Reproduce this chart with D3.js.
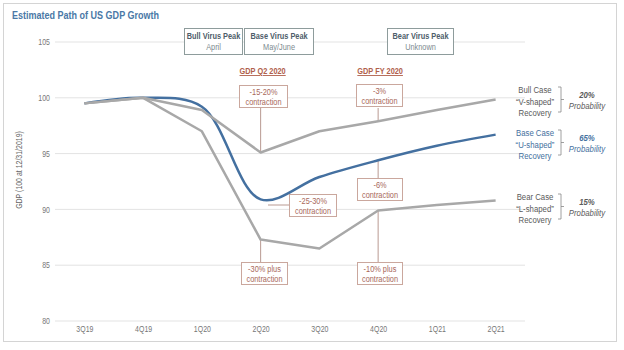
<!DOCTYPE html>
<html>
<head>
<meta charset="utf-8">
<script src="https://cdn.jsdelivr.net/npm/d3@7"></script>
<style>
  body { margin: 0; background: #fff; }
  svg { font-family: "Liberation Sans", Arial, sans-serif; }
</style>
</head>
<body>
<div class="grafico"></div>
<script>
var quarters = ["3Q19", "4Q19", "1Q20", "2Q20", "3Q20", "4Q20", "1Q21", "2Q21"];
var bullCase = [99.5, 100, 98.9, 95.1, 97.0, 97.9, 98.9, 99.85];
var baseCase = [99.5, 100, 99.2, 90.9, 92.9, 94.4, 95.7, 96.7];
var bearCase = [99.5, 100, 97.0, 87.3, 86.5, 89.9, 90.4, 90.8];
var yTicks = [80, 85, 90, 95, 100, 105];

var width = 624;
var height = 350;
var estrecho = 0.82; // imita Arial Narrow

var svg = d3.select('.grafico')
  .append('svg')
  .attr('width', width)
  .attr('height', height);

// texto condensado horizontalmente
function texto(x, y, str, size) {
  return svg.append('text')
    .attr('transform', 'translate(' + x + ',' + y + ') scale(' + estrecho + ',1)')
    .style('font-size', size + 'px')
    .text(str);
}

// marco
svg.append('rect')
  .attr('x', 3.5).attr('y', 3.5)
  .attr('width', 613).attr('height', 338)
  .attr('fill', '#fff')
  .attr('stroke', '#d4d4d4');

texto(12, 19, 'Estimated Path of US GDP Growth', 11)
  .attr('fill', '#4a78a6')
  .style('font-weight', 'bold');

const xScale = d3.scalePoint()
  .domain(quarters)
  .range([55, 525])
  .padding(0.5);

const yScale = d3.scaleLinear()
  .domain([80, 105])
  .range([321, 42]);

// lineas de la rejilla
svg.append('g')
  .selectAll('line')
  .data(yTicks)
  .enter()
  .append('line')
  .attr('x1', 55).attr('x2', 525)
  .attr('y1', d => yScale(d)).attr('y2', d => yScale(d))
  .attr('stroke', '#e3e3e3')
  .attr('stroke-width', 1);

const yAxis = d3.axisLeft(yScale).tickValues(yTicks).tickSize(0).tickPadding(0);
svg.append('g')
  .attr('transform', 'translate(50, 0)')
  .call(yAxis)
  .call(g => g.select('.domain').remove())
  .selectAll('text')
  .attr('fill', '#777')
  .attr('transform', 'scale(' + estrecho + ',1)')
  .style('font-size', '8.5px');

const xAxis = d3.axisBottom(xScale).tickSize(0).tickPadding(5);
svg.append('g')
  .attr('transform', 'translate(0, 321)')
  .call(xAxis)
  .call(g => g.select('.domain').remove())
  .selectAll('text')
  .attr('fill', '#777')
  .attr('transform', 'scale(' + estrecho + ',1)')
  .style('font-size', '8.5px');

svg.append('text')
  .attr('transform', 'translate(22, 170) rotate(-90) scale(' + estrecho + ',1)')
  .attr('text-anchor', 'middle')
  .attr('fill', '#666')
  .style('font-size', '8.5px')
  .text('GDP (100 at 12/31/2019)');

// conectores de las anotaciones
var annoColor = '#a8685a';
var boxStroke = '#caa79d';
function vLine(x, y1, y2) {
  svg.append('line')
    .attr('x1', x).attr('x2', x).attr('y1', y1).attr('y2', y2)
    .attr('stroke', '#b99a92').attr('stroke-width', 1);
}
vLine(xScale('2Q20'), 108, yScale(bullCase[3]));
vLine(xScale('4Q20'), 108, yScale(bullCase[5]));
vLine(xScale('4Q20'), yScale(baseCase[5]), 178);
vLine(xScale('2Q20'), yScale(bearCase[3]), 262);
vLine(xScale('4Q20'), yScale(bearCase[5]), 262);
svg.append('line')
  .attr('x1', 268).attr('x2', 289).attr('y1', 205).attr('y2', 205)
  .attr('stroke', '#b99a92');

// series
var lineaRecta = d3.line()
  .x((d, i) => xScale(quarters[i]))
  .y(d => yScale(d));
var lineaSuave = d3.line()
  .x((d, i) => xScale(quarters[i]))
  .y(d => yScale(d))
  .curve(d3.curveCatmullRom.alpha(0.5));

svg.append('path')
  .datum(baseCase)
  .attr('d', lineaSuave)
  .attr('fill', 'none')
  .attr('stroke', '#4470a0')
  .attr('stroke-width', 2.5);

svg.append('path')
  .datum(bullCase)
  .attr('d', lineaRecta)
  .attr('fill', 'none')
  .attr('stroke', '#a8a8a8')
  .attr('stroke-width', 2.5)
  .attr('stroke-linejoin', 'round');

svg.append('path')
  .datum(bearCase)
  .attr('d', lineaRecta)
  .attr('fill', 'none')
  .attr('stroke', '#a8a8a8')
  .attr('stroke-width', 2.5)
  .attr('stroke-linejoin', 'round');

// cajas superiores
var peaks = [
  { t: 'Bull Virus Peak', s: 'April', x: 184, w: 58 },
  { t: 'Base Virus Peak', s: 'May/June', x: 244, w: 69 },
  { t: 'Bear Virus Peak', s: 'Unknown', x: 387, w: 66 }
];
peaks.forEach(function (p) {
  svg.append('rect')
    .attr('x', p.x + 0.5).attr('y', 28.5)
    .attr('width', p.w).attr('height', 26)
    .attr('fill', '#fff')
    .attr('stroke', '#8e9c9c');
  texto(p.x + p.w / 2 + 0.5, 39, p.t, 9)
    .attr('text-anchor', 'middle')
    .attr('fill', '#4e5e6a')
    .style('font-weight', 'bold');
  texto(p.x + p.w / 2 + 0.5, 50, p.s, 9)
    .attr('text-anchor', 'middle')
    .attr('fill', '#7d8b90');
});

[['GDP Q2 2020', '2Q20'], ['GDP FY 2020', '4Q20']].forEach(function (h) {
  texto(xScale(h[1]) + 2, 74, h[0], 9)
    .attr('text-anchor', 'middle')
    .attr('fill', '#b0604c')
    .style('font-weight', 'bold')
    .style('text-decoration', 'underline');
});

// cajas de contraccion
var cajas = [
  { a: '-15-20%', x: 239, y: 85, w: 48 },
  { a: '-3%', x: 356, y: 84, w: 46 },
  { a: '-25-30%', x: 289, y: 194, w: 47 },
  { a: '-6%', x: 357, y: 178, w: 45 },
  { a: '-30% plus', x: 241, y: 262, w: 46 },
  { a: '-10% plus', x: 357, y: 262, w: 45 }
];
cajas.forEach(function (c) {
  svg.append('rect')
    .attr('x', c.x + 0.5).attr('y', c.y + 0.5)
    .attr('width', c.w).attr('height', 22)
    .attr('fill', '#fff')
    .attr('stroke', boxStroke);
  texto(c.x + c.w / 2 + 0.5, c.y + 9.5, c.a, 9)
    .attr('text-anchor', 'middle')
    .attr('fill', annoColor);
  texto(c.x + c.w / 2 + 0.5, c.y + 19.5, 'contraction', 9)
    .attr('text-anchor', 'middle')
    .attr('fill', annoColor);
});

// etiquetas de escenarios
var escenarios = [
  { l: ['Bull Case', '\u201CV-shaped\u201D', 'Recovery'], p: '20%', y: 90, c: '#5a5a5a' },
  { l: ['Base Case', '\u201CU-shaped\u201D', 'Recovery'], p: '65%', y: 133, c: '#44709e' },
  { l: ['Bear Case', '\u201CL-shaped\u201D', 'Recovery'], p: '15%', y: 197, c: '#5a5a5a' }
];
escenarios.forEach(function (e) {
  e.l.forEach(function (t, i) {
    texto(535, e.y + 3 + i * 11.5, t, 9.5)
      .attr('text-anchor', 'middle')
      .attr('fill', e.c);
  });
  svg.append('path')
    .attr('d', 'M558,' + (e.y - 3) + 'H561V' + (e.y + 22) + 'H558M561,' + (e.y + 9.5) + 'H564')
    .attr('fill', 'none')
    .attr('stroke', '#888')
    .attr('stroke-width', 0.8);
  texto(587, e.y + 8, e.p, 9.5)
    .attr('text-anchor', 'middle')
    .attr('fill', e.c)
    .style('font-weight', 'bold')
    .style('font-style', 'italic');
  texto(587, e.y + 19, 'Probability', 9.5)
    .attr('text-anchor', 'middle')
    .attr('fill', e.c)
    .style('font-style', 'italic');
});
</script>
</body>
</html>
